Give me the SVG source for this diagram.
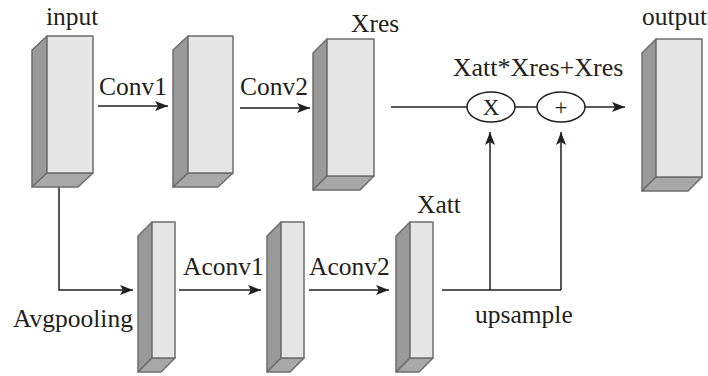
<svg xmlns="http://www.w3.org/2000/svg" width="708" height="376" viewBox="0 0 708 376">
  <defs>
    <marker id="arrow" viewBox="0 0 13 10" refX="13" refY="5" markerWidth="13" markerHeight="10" markerUnits="userSpaceOnUse" orient="auto">
      <path d="M0,0 L13,5 L0,10 L3,5 Z" fill="#231f20"/>
    </marker>
  </defs>
  <style>
    .front { fill: #e6e6e6; stroke: #6e6e6e; stroke-width: 1.5; stroke-linejoin: round; }
    .side { fill: #999999; stroke: #6e6e6e; stroke-width: 1.5; stroke-linejoin: round; }
    .bottom { fill: #a8a8a8; stroke: #6e6e6e; stroke-width: 1.5; stroke-linejoin: round; }
    .line { fill: none; stroke: #231f20; stroke-width: 1.5; }
    .arrow { fill: none; stroke: #231f20; stroke-width: 1.5; marker-end: url(#arrow); }
    .op { fill: #ffffff; stroke: #231f20; stroke-width: 1.5; }
    .sym { font-size: 23px; }
    text { font-family: "Liberation Serif", "Times New Roman", serif; font-size: 25.5px; fill: #231f20; }
  </style>

  <!-- Connectors -->
  <g id="connectors">
    <line class="arrow" x1="98" y1="106" x2="168" y2="106"/>
    <line class="arrow" x1="240" y1="108" x2="310" y2="108"/>
    <line class="line" x1="391" y1="107" x2="467" y2="107"/>
    <line class="line" x1="515" y1="107" x2="537" y2="107"/>
    <line class="arrow" x1="585" y1="107" x2="625" y2="107"/>
    <polyline class="arrow" points="59,187 59,290 133,290"/>
    <line class="arrow" x1="179" y1="290" x2="261" y2="290"/>
    <line class="arrow" x1="309" y1="290" x2="389" y2="290"/>
    <polyline class="line" points="442,290 561,290"/>
    <line class="arrow" x1="490" y1="290" x2="490" y2="132"/>
    <line class="arrow" x1="561" y1="290" x2="561" y2="132"/>
  </g>

  <!-- input block -->
  <g id="input">
    <polygon class="side" points="32,50 47,36 47,173 32,187"/>
    <polygon class="bottom" points="47,173 93,173 78,187 32,187"/>
    <rect class="front" x="47" y="36" width="46" height="137"/>
    <text x="46" y="25">input</text>
  </g>

  <!-- Conv1 output block -->
  <g id="conv1">
    <polygon class="side" points="173,50 188,36 188,173 173,187"/>
    <polygon class="bottom" points="188,173 233,173 218,187 173,187"/>
    <rect class="front" x="188" y="36" width="45" height="137"/>
    <text x="99" y="95">Conv1</text>
  </g>

  <!-- Xres block -->
  <g id="xres">
    <polygon class="side" points="313,53 327,39 327,176 313,190"/>
    <polygon class="bottom" points="327,176 374,176 360,190 313,190"/>
    <rect class="front" x="327" y="39" width="47" height="137"/>
    <text x="240" y="95">Conv2</text>
    <text x="351" y="32">Xres</text>
  </g>

  <!-- Multiply and add operators -->
  <g id="multiply">
    <ellipse class="op" cx="491" cy="107" rx="24" ry="15"/>
    <text class="sym" x="491" y="115" text-anchor="middle">X</text>
  </g>
  <g id="add">
    <ellipse class="op" cx="561" cy="107" rx="24" ry="15"/>
    <text class="sym" x="561" y="115" text-anchor="middle">+</text>
  </g>
  <text x="538" y="76" text-anchor="middle" style="font-size:26px">Xatt*Xres+Xres</text>

  <!-- output block -->
  <g id="output">
    <polygon class="side" points="642,53 656,39 656,177 642,191"/>
    <polygon class="bottom" points="656,177 702,177 688,191 642,191"/>
    <rect class="front" x="656" y="39" width="46" height="138"/>
    <text x="642" y="25">output</text>
  </g>

  <!-- Avgpooling block -->
  <g id="avgpool">
    <polygon class="side" points="138,236 152,222 152,358 138,372"/>
    <polygon class="bottom" points="152,358 175,358 161,372 138,372"/>
    <rect class="front" x="152" y="222" width="23" height="136"/>
    <text x="13" y="327">Avgpooling</text>
  </g>

  <!-- Aconv1 block -->
  <g id="aconv1">
    <polygon class="side" points="267,236 281,222 281,358 267,372"/>
    <polygon class="bottom" points="281,358 304,358 290,372 267,372"/>
    <rect class="front" x="281" y="222" width="23" height="136"/>
    <text x="183" y="275">Aconv1</text>
  </g>

  <!-- Xatt block -->
  <g id="xatt">
    <polygon class="side" points="396,236 410,222 410,358 396,372"/>
    <polygon class="bottom" points="410,358 433,358 419,372 396,372"/>
    <rect class="front" x="410" y="222" width="23" height="136"/>
    <text x="309" y="275">Aconv2</text>
    <text x="417" y="213">Xatt</text>
  </g>

  <text x="475" y="323">upsample</text>
</svg>
